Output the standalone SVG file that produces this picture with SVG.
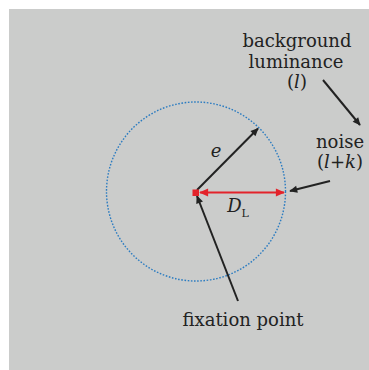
<svg xmlns="http://www.w3.org/2000/svg" width="369" height="370" viewBox="0 0 369 370">
<style>
.t{font-family:"DejaVu Serif","Liberation Serif",serif;font-size:18px;fill:#222;text-anchor:middle}
.i{font-style:italic}
.k{stroke:#222;stroke-width:2;fill:none}
.r{stroke:#e3232b;stroke-width:2.2;fill:none}
</style>
<defs>
<marker id="ah" viewBox="0 0 10 10" refX="9" refY="5" markerWidth="10" markerHeight="8" markerUnits="userSpaceOnUse" orient="auto"><path d="M0,0.5 L10,5 L0,9.5 z" fill="#222"/></marker>
<marker id="rh" viewBox="0 0 10 10" refX="9" refY="5" markerWidth="11" markerHeight="9" markerUnits="userSpaceOnUse" orient="auto-start-reverse"><path d="M0,0.5 L10,5 L0,9.5 z" fill="#e3232b"/></marker>
</defs>
<rect width="369" height="370" fill="#ffffff"/>
<rect x="9" y="9" width="360" height="361" fill="#cbcccb"/>
<g id="circle"><circle cx="196" cy="191.5" r="89.5" fill="none" stroke="#2c7cc1" stroke-width="1.4" stroke-dasharray="1.6 1.6"/></g>
<g id="connectors">
<line class="k" x1="197" y1="190" x2="258" y2="128.5" marker-end="url(#ah)"/>
<line class="r" x1="200" y1="192.5" x2="284" y2="192.5" marker-start="url(#rh)" marker-end="url(#rh)"/>
<line class="k" x1="238" y1="301" x2="197" y2="196" marker-end="url(#ah)"/>
<line class="k" x1="323" y1="80" x2="360" y2="125" marker-end="url(#ah)"/>
<line class="k" x1="330" y1="181" x2="290" y2="191" marker-end="url(#ah)"/>
</g>
<g id="fixation"><rect x="192.5" y="189.5" width="6.5" height="6.5" fill="#e3232b"/>
<text class="t" x="243" y="326">fixation point</text></g>
<g id="e-label"><text class="t i" x="216" y="157">e</text></g>
<g id="dl-label"><text class="t" x="238" y="212"><tspan class="i">D</tspan><tspan font-size="11" dy="5">L</tspan></text></g>
<g id="background"><text class="t" x="297" y="47">background</text><text class="t" x="296" y="68">luminance</text><text class="t" x="297" y="88">(<tspan class="i">l</tspan>)</text></g>
<g id="noise"><text class="t" x="340" y="148">noise</text><text class="t" x="340" y="168">(<tspan class="i">l</tspan>+<tspan class="i">k</tspan>)</text></g>
</svg>
